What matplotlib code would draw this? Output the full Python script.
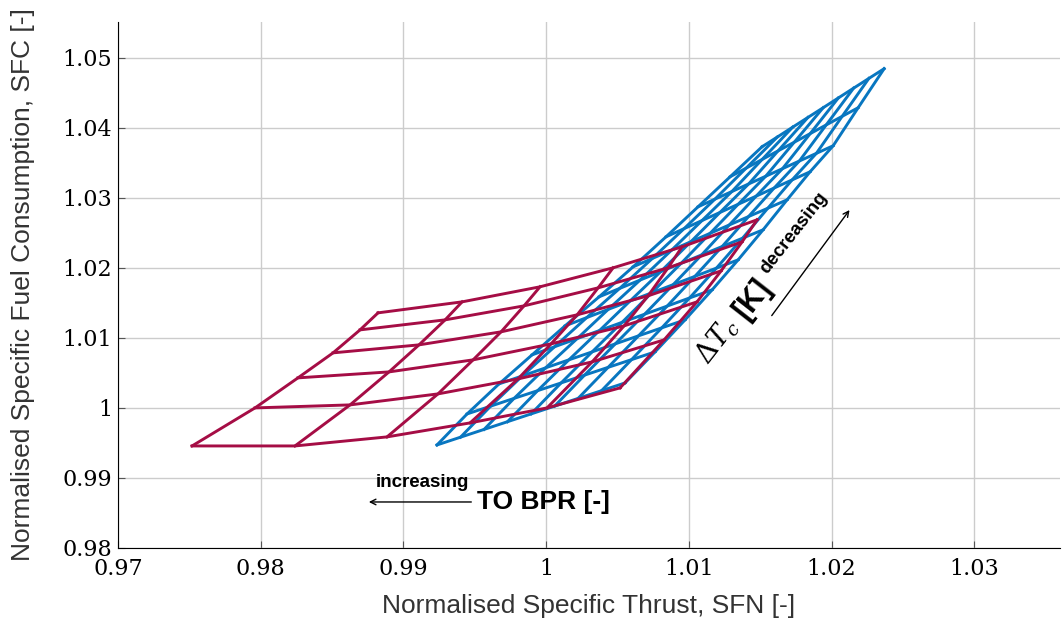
import numpy as np
import matplotlib.pyplot as plt

# red carpet: rows (constant dTc) x columns (constant TO BPR)
red_x = [
    [0.97519, 0.98240, 0.98885, 0.99467, 1.00006, 1.00518],
    [0.97960, 0.98626, 0.99242, 0.99803, 1.00322, 1.00826],
    [0.98261, 0.98899, 0.99488, 1.00034, 1.00546, 1.01057],
    [0.98507, 0.99109, 0.99684, 1.00217, 1.00714, 1.01226],
    [0.98696, 0.99292, 0.99845, 1.00364, 1.00854, 1.01373],
    [0.98822, 0.99411, 0.99957, 1.00469, 1.00952, 1.01478],
]
red_y = [
    [0.99457, 0.99457, 0.99586, 0.99786, 1.00000, 1.00286],
    [1.00000, 1.00043, 1.00200, 1.00414, 1.00657, 1.00971],
    [1.00429, 1.00514, 1.00686, 1.00914, 1.01171, 1.01514],
    [1.00786, 1.00900, 1.01086, 1.01329, 1.01600, 1.01957],
    [1.01114, 1.01257, 1.01457, 1.01714, 1.02000, 1.02371],
    [1.01357, 1.01514, 1.01729, 1.02000, 1.02300, 1.02686],
]

# blue carpet
blue_x = [
    [0.99235, 0.99400, 0.99565, 0.99729, 0.99894, 1.00059, 1.00224, 1.00388, 1.00553],
    [0.99446, 0.99611, 0.99775, 0.99940, 1.00105, 1.00269, 1.00434, 1.00598, 1.00763],
    [0.99670, 0.99833, 0.99996, 1.00159, 1.00322, 1.00484, 1.00647, 1.00810, 1.00973],
    [0.99901, 1.00059, 1.00217, 1.00374, 1.00532, 1.00690, 1.00848, 1.01005, 1.01163],
    [1.00132, 1.00284, 1.00435, 1.00587, 1.00739, 1.00890, 1.01042, 1.01193, 1.01345],
    [1.00371, 1.00515, 1.00658, 1.00802, 1.00946, 1.01089, 1.01233, 1.01376, 1.01520],
    [1.00609, 1.00744, 1.00879, 1.01014, 1.01149, 1.01283, 1.01418, 1.01553, 1.01688],
    [1.00840, 1.00966, 1.01092, 1.01218, 1.01345, 1.01471, 1.01597, 1.01723, 1.01849],
    [1.01064, 1.01182, 1.01301, 1.01419, 1.01538, 1.01656, 1.01774, 1.01893, 1.02011],
    [1.01289, 1.01401, 1.01513, 1.01625, 1.01738, 1.01850, 1.01962, 1.02074, 1.02186],
    [1.01513, 1.01620, 1.01727, 1.01834, 1.01941, 1.02047, 1.02154, 1.02261, 1.02368],
]
blue_y = [
    [0.99471, 0.99582, 0.99693, 0.99803, 0.99914, 1.00025, 1.00136, 1.00246, 1.00357],
    [0.99914, 1.00025, 1.00136, 1.00246, 1.00357, 1.00468, 1.00579, 1.00689, 1.00800],
    [1.00343, 1.00457, 1.00572, 1.00686, 1.00800, 1.00914, 1.01029, 1.01143, 1.01257],
    [1.00757, 1.00873, 1.00989, 1.01105, 1.01222, 1.01338, 1.01454, 1.01570, 1.01686],
    [1.01171, 1.01289, 1.01407, 1.01525, 1.01643, 1.01760, 1.01878, 1.01996, 1.02114],
    [1.01586, 1.01706, 1.01825, 1.01945, 1.02065, 1.02184, 1.02304, 1.02423, 1.02543],
    [1.02014, 1.02134, 1.02253, 1.02373, 1.02493, 1.02612, 1.02732, 1.02851, 1.02971],
    [1.02443, 1.02559, 1.02675, 1.02791, 1.02907, 1.03023, 1.03139, 1.03255, 1.03371],
    [1.02871, 1.02980, 1.03089, 1.03198, 1.03307, 1.03416, 1.03525, 1.03634, 1.03743],
    [1.03300, 1.03423, 1.03547, 1.03670, 1.03793, 1.03916, 1.04040, 1.04163, 1.04286],
    [1.03729, 1.03868, 1.04008, 1.04147, 1.04286, 1.04425, 1.04565, 1.04704, 1.04843],
]

x_ticks = [0.97, 0.98, 0.99, 1.0, 1.01, 1.02, 1.03]
x_labels = ['0.97', '0.98', '0.99', '1', '1.01', '1.02', '1.03']
y_ticks = [0.98, 0.99, 1.0, 1.01, 1.02, 1.03, 1.04, 1.05]
y_labels = ['0.98', '0.99', '1', '1.01', '1.02', '1.03', '1.04', '1.05']

red = '#A50D45'
blue = '#0876C0'

fig = plt.figure(figsize=(10.62, 6.24), dpi=100)
ax = fig.add_axes([0.1111, 0.1218, 0.887, 0.843])


def carpet(xs, ys, color):
    xs = np.array(xs)
    ys = np.array(ys)
    for k in range(xs.shape[0]):
        ax.plot(xs[k], ys[k], color=color, lw=2.1, solid_joinstyle='miter')
    for j in range(xs.shape[1]):
        ax.plot(xs[:, j], ys[:, j], color=color, lw=2.1, solid_joinstyle='miter')


carpet(blue_x, blue_y, blue)
carpet(red_x, red_y, red)

ax.set_xlim(0.97, 1.036)
ax.set_ylim(0.98, 1.0551)
ax.set_xticks(x_ticks)
ax.set_xticklabels(x_labels, fontfamily='DejaVu Serif', fontsize=16)
ax.set_yticks(y_ticks)
ax.set_yticklabels(y_labels, fontfamily='DejaVu Serif', fontsize=16)
ax.tick_params(direction='in', length=5, color='#555555')
ax.tick_params(axis='x', pad=7)
ax.tick_params(axis='y', pad=4)
ax.grid(True, color='#cccccc', lw=1)
ax.set_axisbelow(True)
for s in ['top', 'right']:
    ax.spines[s].set_visible(False)

ax.set_xlabel('Normalised Specific Thrust, SFN [-]', fontfamily='Liberation Sans',
              fontsize=19, color='#333333', labelpad=10)
ax.set_ylabel('Normalised Specific Fuel Consumption, SFC [-]', fontfamily='Liberation Sans',
              fontsize=19, color='#333333', labelpad=20)

# TO BPR annotation
ax.annotate('', xy=(0.98738, 0.98657), xytext=(0.99495, 0.98657),
            arrowprops=dict(arrowstyle='->', lw=1.0, color='black'))
ax.text(0.99130, 0.98929, 'increasing', fontfamily='Liberation Sans', fontweight='bold',
        fontsize=13.5, ha='center', va='center')
ax.text(0.99516, 0.98657, 'TO BPR [-]', fontfamily='Liberation Sans', fontweight='bold',
        fontsize=19, ha='left', va='center')

# dTc annotation
ang = 52
ax.annotate('', xy=(1.02137, 1.02857), xytext=(1.01569, 1.01286),
            arrowprops=dict(arrowstyle='->', lw=1.0, color='black'))
ax.text(1.01195, 1.00961, r'$\Delta T_c$', fontsize=20, rotation=ang,
        ha='center', va='center', math_fontfamily='dejavuserif')
ax.text(1.01443, 1.01560, '[K]', fontfamily='Liberation Sans', fontweight='bold',
        fontsize=22, rotation=ang, ha='center', va='center')
ax.text(1.01734, 1.0250, 'decreasing', fontfamily='Liberation Sans', fontweight='bold',
        fontsize=13.5, rotation=ang, ha='center', va='center')

fig.savefig('out.png', dpi=100)
